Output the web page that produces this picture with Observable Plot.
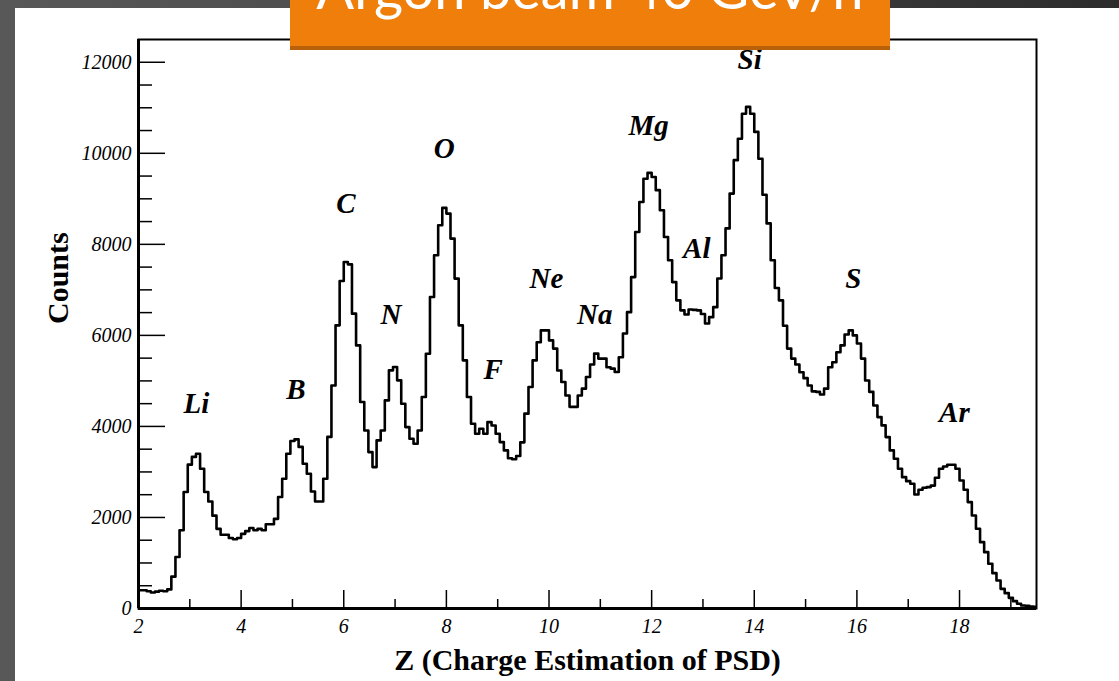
<!DOCTYPE html>
<html>
<head>
<meta charset="utf-8">
<script src="https://cdn.jsdelivr.net/npm/d3@7"></script>
<script src="https://cdn.jsdelivr.net/npm/@observablehq/plot@0.6"></script>
<style>
  html, body { margin: 0; padding: 0; }
  body {
    width: 1119px; height: 681px; overflow: hidden; position: relative;
    background: linear-gradient(90deg, #585858 0%, #454545 50%, #2c2c2c 100%);
  }
  #panel { position: absolute; left: 15px; top: 8px; right: 0; bottom: 0; background: #fff; }
  #chart { position: absolute; left: 0; top: 0; }
  #title {
    position: absolute; left: 290px; top: -52px; width: 600px; height: 102px;
    background: #ef7f0a; border-bottom: 4px solid #b8600a; box-sizing: border-box;
    color: #fff; font-family: Lato, "Open Sans", sans-serif; font-size: 56px;
    text-align: center; line-height: 80px; white-space: nowrap; overflow: hidden;
    z-index: 2;
  }
</style>
</head>
<body>
<div id="panel"><div id="chart"></div></div>
<div id="title">Argon beam 40 GeV/n</div>
<script>
// Histogram of the PSD charge estimate: bins of width 0.08 starting at Z = 2
const zStart = 2;
const binWidth = 0.08;
const counts = [
  400, 400, 380, 350, 370, 390, 380, 420, 700, 1130,
  1720, 2560, 3160, 3330, 3400, 3070, 2560, 2350, 2040, 1750,
  1620, 1620, 1550, 1520, 1550, 1640, 1700, 1770, 1720, 1750,
  1720, 1850, 1850, 1970, 2450, 2850, 3400, 3680, 3715, 3550,
  3180, 2960, 2570, 2350, 2350, 2850, 3770, 4900, 6220, 7195,
  7613, 7560, 6477, 5780, 4535, 3912, 3436, 3106, 3693, 3912,
  4572, 5232, 5305, 5012, 4499, 3985, 3730, 3620, 3912, 4645,
  5598, 6843, 7760, 8419, 8800, 8675, 8126, 7247, 6220, 5451,
  4645, 4060, 3840, 3950, 3840, 4095, 4020, 3840, 3655, 3473,
  3300, 3280, 3350, 3650, 4280, 4865, 5450, 5850, 6110, 6110,
  5890, 5710, 5230, 4975, 4680, 4430, 4430, 4680, 4830, 5085,
  5360, 5600, 5490, 5490, 5300, 5270, 5195, 5520, 6040, 6510,
  7280, 8270, 8930, 9440, 9570, 9480, 9190, 8750, 8160, 7650,
  7170, 6770, 6550, 6460, 6570, 6560, 6550, 6470, 6260, 6400,
  6620, 7250, 7760, 8350, 9115, 9850, 10320, 10870, 11020, 10870,
  10470, 9880, 9090, 8460, 7650, 7040, 6770, 6210, 5710, 5490,
  5360, 5190, 5060, 4900, 4770, 4760, 4700, 4830, 5300, 5410,
  5630, 5780, 6020, 6110, 6000, 5820, 5490, 5010, 4760, 4460,
  4205, 4022, 3765, 3473, 3290, 3070, 2886, 2798, 2740, 2506,
  2608, 2652, 2667, 2700, 2872, 3070, 3121, 3158, 3158, 3070,
  2813, 2608, 2337, 2044, 1751, 1458, 1238, 982, 777, 615,
  432, 337, 234, 161, 103, 66, 60, 44, 40
];

// Axis ticks
const yMajor = [0, 2000, 4000, 6000, 8000, 10000, 12000];
const yMinor = [500, 1000, 1500, 2500, 3000, 3500, 4500, 5000, 5500, 6500, 7000, 7500,
                8500, 9000, 9500, 10500, 11000, 11500];
const xMajor = [2, 4, 6, 8, 10, 12, 14, 16, 18];
const xMinor = [3, 5, 7, 9, 11, 13, 15, 17, 19];

// Element peak labels
const elements = ["Li", "B", "C", "N", "O", "F", "Ne", "Na", "Mg", "Al", "Si", "S", "Ar"];
const elementZ = [3.13, 5.07, 6.04, 6.92, 7.96, 8.91, 9.95, 10.89, 11.94, 12.88, 13.91, 15.93, 17.9];
const elementCount = [4500, 4800, 8900, 6450, 10100, 5250, 7250, 6450, 10600, 7900, 12050, 7250, 4300];

const bins = counts.map((c, i) => ({z: zStart + i * binWidth, count: c}));
bins.push({z: zStart + counts.length * binWidth, count: counts[counts.length - 1]});

const labels = elements.map((name, i) => ({name, z: elementZ[i], count: elementCount[i]}));

const serif = "'Liberation Serif', 'Times New Roman', serif";
const noText = () => "";

const chart = Plot.plot({
  width: 1104,
  height: 673,
  marginLeft: 123,
  marginRight: 83,
  marginTop: 31,
  marginBottom: 73,
  x: {domain: [2, 19.5]},
  y: {domain: [0, 12500]},
  style: {fontFamily: serif, background: "white", color: "black", overflow: "visible"},
  marks: [
    Plot.line(bins, {x: "z", y: "count", curve: "step-after", stroke: "black", strokeWidth: 2.6, clip: true}),
    // inward tick marks
    Plot.axisY(yMajor, {tickSize: -27, tickFormat: noText, label: null, strokeWidth: 1.5}),
    Plot.axisY(yMinor, {tickSize: -14, tickFormat: noText, label: null, strokeWidth: 1.5}),
    Plot.axisX(xMajor, {tickSize: -18, tickFormat: noText, label: null, strokeWidth: 1.5}),
    Plot.axisX(xMinor, {tickSize: -9, tickFormat: noText, label: null, strokeWidth: 1.5}),
    // tick labels
    Plot.text(yMajor, {x: 2, y: d => d, text: d => String(d), dx: -7, textAnchor: "end",
      fontSize: 20, fontStyle: "italic", fontFamily: serif}),
    Plot.text(xMajor, {x: d => d, y: 0, text: d => String(d), dy: 18,
      fontSize: 20, fontStyle: "italic", fontFamily: serif}),
    Plot.frame({stroke: "black", strokeWidth: 2}),
    Plot.ruleX([2], {stroke: "black", strokeWidth: 3}),
    Plot.ruleY([0], {stroke: "black", strokeWidth: 3}),
    // peak labels
    Plot.text(labels, {x: "z", y: "count", text: "name", fontSize: 29, fontWeight: "bold", fontStyle: "italic", fontFamily: serif}),
    // axis titles
    Plot.text(["Z (Charge Estimation of PSD)"], {frameAnchor: "bottom", lineAnchor: "middle", dy: 52, text: d => d,
      fontSize: 30, fontWeight: "bold", fontFamily: serif}),
    Plot.text(["Counts"], {frameAnchor: "left", dx: -80, rotate: -90, text: d => d, fontSize: 30, fontWeight: "bold", fontFamily: serif})
  ]
});

document.getElementById("chart").appendChild(chart);
</script>
</body>
</html>
